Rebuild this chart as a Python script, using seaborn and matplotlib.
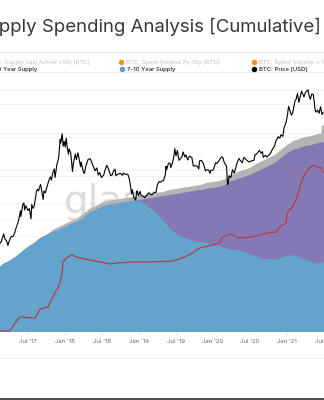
import numpy as np
import pandas as pd
import matplotlib
matplotlib.use("Agg")
import matplotlib.pyplot as plt
import matplotlib.dates as mdates
from matplotlib.lines import Line2D
import seaborn as sns

# ---------------- data ----------------
title = "Supply Spending Analysis [Cumulative]"

supply_dates = [
    "2017-02-13", "2017-03-01", "2017-04-01", "2017-05-01", "2017-06-01", "2017-07-01",
    "2017-08-01", "2017-09-01", "2017-10-01", "2017-11-01", "2017-12-01", "2018-01-01",
    "2018-02-01", "2018-03-01", "2018-04-01", "2018-05-01", "2018-06-01", "2018-07-01",
    "2018-08-01", "2018-09-01", "2018-10-01", "2018-11-01", "2018-12-01", "2019-01-01",
    "2019-02-01", "2019-03-01", "2019-04-01", "2019-05-01", "2019-06-01", "2019-07-01",
    "2019-08-01", "2019-09-01", "2019-10-01", "2019-11-01", "2019-12-01", "2020-01-01",
    "2020-02-01", "2020-03-01", "2020-04-01", "2020-05-01", "2020-06-01", "2020-07-01",
    "2020-08-01", "2020-09-01", "2020-10-01", "2020-11-01", "2020-12-01", "2021-01-01",
    "2021-02-01", "2021-03-01", "2021-04-01", "2021-05-01", "2021-06-01", "2021-07-02",
]
# 7-10 year supply (M BTC)
supply_7_10y = [
    1.30, 1.36, 1.42, 1.50, 1.60, 1.70, 1.78, 1.88, 1.94, 2.00, 2.04, 2.10,
    2.16, 2.20, 2.28, 2.38, 2.44, 2.50, 2.54, 2.56, 2.58, 2.60, 2.62, 2.64,
    2.56, 2.46, 2.36, 2.22, 2.08, 1.98, 1.90, 1.86, 1.82, 1.80, 1.78, 1.74,
    1.72, 1.68, 1.64, 1.64, 1.60, 1.56, 1.52, 1.46, 1.46, 1.44, 1.48, 1.52,
    1.54, 1.50, 1.44, 1.40, 1.38, 1.40,
]
# >10 year supply (M BTC), stacked above the 7-10y supply
supply_10y_plus = [
    0, 0, 0, 0, 0, 0, 0, 0, 0, 0, 0, 0,
    0, 0, 0, 0, 0, 0, 0, 0, 0, 0, 0, 0.00,
    0.10, 0.22, 0.34, 0.50, 0.66, 0.78, 0.88, 0.94, 1.00, 1.04, 1.08, 1.14,
    1.18, 1.26, 1.38, 1.42, 1.50, 1.58, 1.68, 1.80, 1.86, 1.94, 2.00, 2.06,
    2.10, 2.18, 2.28, 2.34, 2.40, 2.40,
]

last_active_dates = supply_dates[:-1] + ["2021-06-18", "2021-06-20", "2021-07-02"]
# Supply last active >7y (M BTC)
last_active_total = [
    1.30, 1.36, 1.42, 1.50, 1.60, 1.70, 1.78, 1.88, 1.94, 2.04, 2.10, 2.16,
    2.22, 2.26, 2.36, 2.46, 2.52, 2.58, 2.62, 2.64, 2.66, 2.68, 2.70, 2.72,
    2.74, 2.76, 2.78, 2.80, 2.84, 2.86, 2.88, 2.90, 2.92, 2.94, 2.98, 3.00,
    3.02, 3.06, 3.14, 3.20, 3.24, 3.28, 3.36, 3.42, 3.48, 3.54, 3.64, 3.74,
    3.82, 3.86, 3.90, 3.92, 3.96, 3.96, 4.12, 4.14,
]

spent_dates = [
    "2017-02-13", "2017-04-01", "2017-04-16", "2017-05-01", "2017-05-22", "2017-08-04",
    "2017-08-14", "2017-08-30", "2017-10-09", "2017-10-19", "2017-11-02", "2017-11-12",
    "2017-11-27", "2017-12-06", "2017-12-16", "2017-12-21", "2018-01-11", "2018-02-04",
    "2018-02-28", "2018-03-15", "2018-05-03", "2018-06-22", "2018-08-10", "2018-09-13",
    "2018-12-01", "2019-02-23", "2019-06-15", "2019-08-03", "2019-09-22", "2019-10-26",
    "2019-12-30", "2020-02-02", "2020-02-17", "2020-03-22", "2020-05-10", "2020-07-13",
    "2020-09-20", "2020-11-08", "2020-11-23", "2020-12-27", "2021-01-01", "2021-01-26",
    "2021-02-14", "2021-03-11", "2021-03-26", "2021-04-19", "2021-05-14", "2021-06-02",
    "2021-06-17", "2021-06-28",
]
# cumulative spent volume 7y-10y (k BTC)
spent_7_10y_cum = [
    1, 1, 5, 10, 15, 14, 17, 23, 25, 30, 35, 40,
    44, 50, 57, 70, 75, 77, 75, 74, 72, 70, 68, 69,
    70, 70, 71, 74, 79, 84, 87, 89, 95, 98, 94, 95,
    99, 100, 105, 109, 119, 125, 132, 149, 157, 164, 167, 165,
    164, 160,
]

price_dates = [
    "2017-02-13", "2017-02-20", "2017-03-03", "2017-03-10", "2017-03-17", "2017-03-24",
    "2017-04-01", "2017-04-10", "2017-04-17", "2017-04-26", "2017-05-05", "2017-05-12",
    "2017-05-20", "2017-05-25", "2017-05-27", "2017-06-06", "2017-06-11", "2017-06-15",
    "2017-06-20", "2017-06-27", "2017-07-01", "2017-07-08", "2017-07-16", "2017-07-20",
    "2017-07-26", "2017-08-01", "2017-08-07", "2017-08-12", "2017-08-17", "2017-08-22",
    "2017-09-01", "2017-09-05", "2017-09-14", "2017-09-18", "2017-09-25", "2017-10-01",
    "2017-10-12", "2017-10-20", "2017-10-25", "2017-11-01", "2017-11-08", "2017-11-12",
    "2017-11-20", "2017-11-26", "2017-11-29", "2017-12-01", "2017-12-07", "2017-12-10",
    "2017-12-17", "2017-12-22", "2017-12-27", "2018-01-01", "2018-01-06", "2018-01-11",
    "2018-01-17", "2018-01-20", "2018-01-28", "2018-02-02", "2018-02-06", "2018-02-10",
    "2018-02-20", "2018-02-25", "2018-03-05", "2018-03-18", "2018-03-21", "2018-04-01",
    "2018-04-06", "2018-04-12", "2018-04-24", "2018-05-05", "2018-05-15", "2018-05-28",
    "2018-06-06", "2018-06-13", "2018-06-20", "2018-06-29", "2018-07-10", "2018-07-18",
    "2018-07-25", "2018-08-01", "2018-08-14", "2018-08-20", "2018-08-28", "2018-09-04",
    "2018-09-08", "2018-09-20", "2018-10-01", "2018-10-11", "2018-10-15", "2018-10-25",
    "2018-11-06", "2018-11-14", "2018-11-20", "2018-11-25", "2018-11-28", "2018-12-07",
    "2018-12-15", "2018-12-20", "2018-12-24", "2018-12-28", "2019-01-06", "2019-01-10",
    "2019-01-20", "2019-01-29", "2019-02-08", "2019-02-18", "2019-02-24", "2019-03-04",
    "2019-03-15", "2019-03-25", "2019-04-02", "2019-04-10", "2019-04-17", "2019-04-25",
    "2019-05-01", "2019-05-10", "2019-05-14", "2019-05-17", "2019-05-26", "2019-06-03",
    "2019-06-06", "2019-06-15", "2019-06-22", "2019-06-26", "2019-07-02", "2019-07-09",
    "2019-07-17", "2019-07-25", "2019-08-01", "2019-08-06", "2019-08-15", "2019-08-20",
    "2019-08-29", "2019-09-06", "2019-09-18", "2019-09-26", "2019-10-05", "2019-10-16",
    "2019-10-23", "2019-10-26", "2019-11-05", "2019-11-15", "2019-11-25", "2019-12-02",
    "2019-12-10", "2019-12-17", "2019-12-20", "2019-12-31", "2020-01-03", "2020-01-14",
    "2020-01-20", "2020-01-31", "2020-02-12", "2020-02-18", "2020-02-26", "2020-03-08",
    "2020-03-12", "2020-03-16", "2020-03-20", "2020-03-29", "2020-04-06", "2020-04-15",
    "2020-04-29", "2020-05-08", "2020-05-15", "2020-05-25", "2020-06-01", "2020-06-15",
    "2020-06-27", "2020-07-09", "2020-07-21", "2020-07-27", "2020-08-02", "2020-08-17",
    "2020-08-25", "2020-09-01", "2020-09-05", "2020-09-15", "2020-09-23", "2020-10-10",
    "2020-10-21", "2020-10-31", "2020-11-05", "2020-11-18", "2020-11-26", "2020-12-01",
    "2020-12-11", "2020-12-17", "2020-12-27", "2021-01-03", "2021-01-08", "2021-01-13",
    "2021-01-22", "2021-01-29", "2021-02-08", "2021-02-14", "2021-02-21", "2021-02-28",
    "2021-03-13", "2021-03-25", "2021-04-01", "2021-04-14", "2021-04-18", "2021-04-25",
    "2021-05-03", "2021-05-10", "2021-05-13", "2021-05-19", "2021-05-23", "2021-06-01",
    "2021-06-08", "2021-06-15", "2021-06-22", "2021-06-28",
]
price_usd = [
    995, 1050, 1280, 1110, 1070, 940,
    1080, 1205, 1190, 1300, 1550, 1720,
    2050, 2400, 2050, 2870, 2960, 2450,
    2750, 2550, 2420, 2550, 1930, 2850,
    2560, 2720, 3370, 4050, 4300, 4100,
    4900, 4400, 3250, 4100, 3900, 4400,
    5450, 6000, 5500, 6750, 7450, 5900,
    8200, 9300, 9900, 10900, 16600, 15000,
    19300, 13800, 15700, 13500, 17100, 13400,
    11100, 12800, 11600, 8800, 6950, 8600,
    11200, 9600, 11500, 7900, 9000, 6800,
    6600, 7900, 9650, 9800, 8500, 7100,
    7650, 6300, 6750, 5900, 6300, 7350,
    8200, 7600, 6200, 6300, 7100, 7400,
    6200, 6500, 6600, 6250, 6650, 6450,
    6450, 5650, 4500, 3800, 4250, 3400,
    3200, 4100, 4050, 3600, 4050, 3650,
    3550, 3420, 3650, 3900, 3750, 3700,
    3900, 3950, 4900, 5300, 5200, 5400,
    5400, 6350, 8000, 7300, 8700, 8700,
    7700, 8800, 10700, 12900, 10600, 12300,
    9400, 9850, 10400, 11800, 10300, 10900,
    9500, 10500, 10200, 8050, 8150, 8000,
    7450, 9250, 9400, 8500, 7050, 7300,
    7250, 6600, 7150, 7200, 7350, 8800,
    8650, 9350, 10350, 10200, 8800, 8050,
    4900, 5000, 6200, 5900, 7300, 6650,
    8800, 9900, 9350, 8800, 10200, 9450,
    9000, 9250, 9400, 11000, 11100, 12300,
    11400, 11900, 10200, 10800, 10250, 11300,
    12800, 13800, 15600, 17800, 17100, 18800,
    18000, 22800, 26300, 32800, 40600, 37300,
    32000, 34300, 46400, 48900, 57500, 45200,
    61200, 52300, 59000, 63500, 56200, 49100,
    56600, 55900, 49700, 37000, 34700, 36700,
    33600, 40200, 32500, 34500,
]

tick_dates = ["2017-07-01", "2018-01-01", "2018-07-01", "2019-01-01", "2019-07-01",
              "2020-01-01", "2020-07-01", "2021-01-01", "2021-07-01"]
tick_labels = ["Jul '17", "Jan '18", "Jul '18", "Jan '19", "Jul '19",
               "Jan '20", "Jul '20", "Jan '21", "Jul '21"]

legend_row1 = ["BTC: Supply Last Active >10y [BTC]", "BTC: Spent Volume 7y-10y [BTC]",
               "BTC: Spent Volume > 10y [BTC]"]
legend_row2 = [">10 Year Supply", "7-10 Year Supply", "BTC: Price [USD]"]

# ---------------- style ----------------
sns.set_theme(style="white")
plt.rcParams["font.family"] = ["Inter", "DejaVu Sans"]

C_BLUE = "#63a3cc"
C_PURPLE = "#8579b5"
C_GRAY = "#b4b4b4"
C_RED = "#c0303c"
C_ORANGE = "#f7931a"

W, H = 324, 400
fig = plt.figure(figsize=(W / 100, H / 100), dpi=100)
ax = fig.add_axes([0, 68 / H, 1, 254 / H])

sd = pd.to_datetime(supply_dates)
blue = np.array(supply_7_10y)
purple_top = blue + np.array(supply_10y_plus)

ax.fill_between(pd.to_datetime(last_active_dates), 0, last_active_total,
                color=C_GRAY, lw=0, zorder=2)
ax.fill_between(sd, 0, purple_top, color=C_PURPLE, lw=0, zorder=3)
ax.fill_between(sd, 0, blue, color=C_BLUE, lw=0, zorder=4)
ax.set_ylim(0, 5.08)
ax.set_yticks(np.concatenate([np.arange(0.54, 5.0, 0.86), np.arange(0.60, 5.0, 0.66)]))
ax.yaxis.grid(True, color="#f1f1f1", lw=0.6)
ax.xaxis.grid(False)
ax.set_axisbelow(True)
ax.tick_params(axis="y", left=False, labelleft=False)

ax.text(0.5, (332 - 213) / 254, "glassnode", transform=ax.transAxes, ha="center",
        va="baseline", fontsize=28, color="#dcdcdc", zorder=1,
        family=["DejaVu Sans"])

# red cumulative spent line
ax_red = ax.twinx()
sns.lineplot(x=pd.to_datetime(spent_dates), y=spent_7_10y_cum, ax=ax_red,
             color=C_RED, lw=0.8)
ax_red.set_ylim(0, 254)

# price line (log)
ax_p = ax.twinx()
sns.lineplot(x=pd.to_datetime(price_dates), y=price_usd, ax=ax_p,
             color="black", lw=0.8)
ax_p.set_yscale("log")
ax_p.set_ylim(90, 87400)

for a in (ax, ax_red, ax_p):
    for s in a.spines.values():
        s.set_visible(False)
    a.set_ylabel("")
    a.set_xlabel("")
for a in (ax_red, ax_p):
    a.tick_params(axis="y", right=False, labelright=False, left=False, labelleft=False)
    a.grid(False)

ax.set_xlim(pd.Timestamp("2017-02-13"), pd.Timestamp("2021-07-02"))
ax.set_xticks(pd.to_datetime(tick_dates))
ax.set_xticklabels(tick_labels)
ax.tick_params(axis="x", bottom=True, length=2.5, width=0.5, color="#dddddd",
               labelsize=4.3, labelcolor="#666666", pad=2.8)

# ---------------- title / legend / decoration ----------------
def fx(px):
    return px / W

def fy(py):
    return 1 - py / H

fig.text(fx(321), fy(32.5), title, ha="right", va="baseline", fontsize=13.4,
         color="#383838")

for yy in (51.7, 71.7):
    fig.add_artist(Line2D([0, 1], [fy(yy), fy(yy)], transform=fig.transFigure,
                          color="#e8e8e8", lw=0.6))
fig.add_artist(Line2D([0, 1], [fy(358), fy(358)], transform=fig.transFigure,
                      color="#eeeeee", lw=0.6))
fig.add_artist(Line2D([0, 1], [fy(399.3), fy(399.3)], transform=fig.transFigure,
                      color="#4a4a4a", lw=1.4))

row1_y, row2_y = 61.7, 69.2
leg_fs = 4.3
# column 1 (marker off canvas)
fig.text(fx(90), fy(row1_y), legend_row1[0], ha="right", va="center",
         fontsize=leg_fs, color="#c2c2c2")
fig.text(fx(37), fy(row2_y), legend_row2[0], ha="right", va="center",
         fontsize=leg_fs, color="#222222", fontweight="medium")
# columns 2 and 3
entries = [
    (121, row1_y, C_ORANGE, legend_row1[1], "#bdbdbd", "normal"),
    (254, row1_y, C_ORANGE, legend_row1[2], "#bdbdbd", "normal"),
    (122, row2_y, "#5b9fd6", legend_row2[1], "#222222", "medium"),
    (254, row2_y, "black", legend_row2[2], "#222222", "medium"),
]
for mx, my, mc, txt, tc, fw in entries:
    fig.add_artist(Line2D([fx(mx)], [fy(my)], transform=fig.transFigure,
                          marker="o", ms=2.9, color=mc, lw=0))
    fig.text(fx(mx + 5), fy(my), txt, ha="left", va="center", fontsize=leg_fs,
             color=tc, fontweight=fw)

fig.savefig("out.png", dpi=100)
